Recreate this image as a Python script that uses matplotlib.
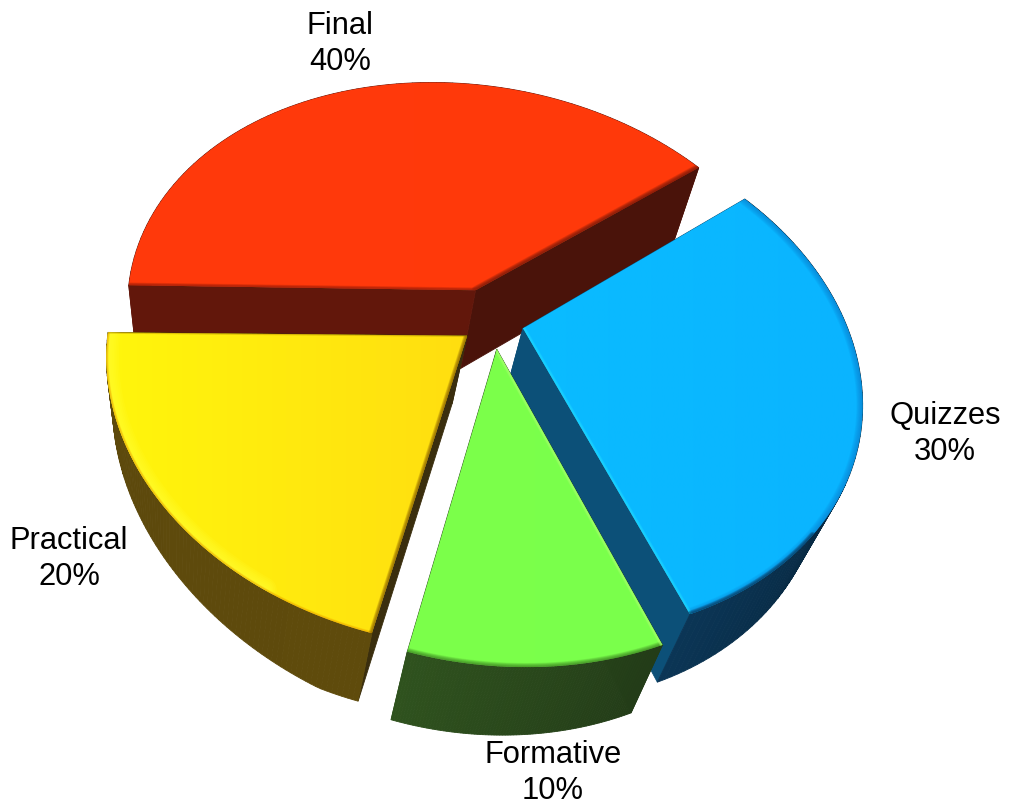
#!/usr/bin/env python3
import matplotlib
import matplotlib.pyplot as plt
from matplotlib.colors import to_rgb
from matplotlib.patches import PathPatch, Polygon
from matplotlib.path import Path
import numpy as np

matplotlib.use('Agg')

LABELS = ['Final', 'Practical', 'Formative', 'Quizzes']
VALUES = [40, 20, 10, 30]
EXPLODE = [0.13, 0.10, 0.11, 0.09]
DEPTH = [1.15, 1.0, 1.0, 1.0]

TOP_COLORS = [('#FF3A0C', '#FF390A'), ('#FFF60C', '#FFDE10'), ('#7CFF4A', '#7AFF4C'), ('#0ABCFF', '#0AB4FF')]
RIM_COLORS = [('#62170B', '#62170B'), ('#5C480C', '#5F4B0C'), ('#2F521E', '#233C18'), ('#0B3555', '#000F18')]
CUT_COLORS = [('#62170B', '#4A130A'), ('#3A2E0E', '#3A2E0E'), ('#233C18', '#2F521E'), ('#0C5078', '#0C5078')]

LABEL_POS = [(340, 44), (69, 559), (553, 773), (945, 434)]

START = 34.0
CX, CY = 493, 321
RX, RY = 338, 253
PERSP = 0.17
PERSP_X = 0.045
SHEAR = 0.18
SKEW = 0.015


def project(u, v):
    """Tilted disc coordinates to pixel coordinates."""
    w = 1 + PERSP * v + PERSP_X * u
    yy = -RY * v / w
    xx = RX * u / w + SHEAR * yy
    return CX + xx, CY + yy - SKEW * xx


def extrude(x, y, scale):
    """Bottom of the side wall for a point on the top face."""
    dx = -0.06 * (x - 200) - 0.015 * (y - 400)
    dy = 68 - 23 * np.clip((330 - x) / 230, 0, 1)
    return x + dx, y + dy * scale


def mix(a, b, t):
    a, b = np.array(to_rgb(a)), np.array(to_rgb(b))
    return tuple(a + (b - a) * t)


def draw_quad(ax, p0, p1, scale, color, zorder):
    x0, y0 = extrude(p0[0], p0[1], scale)
    x1, y1 = extrude(p1[0], p1[1], scale)
    ax.add_patch(Polygon([p0, p1, (x1, y1), (x0, y0)], closed=True, facecolor=color,
                         edgecolor=color, linewidth=0.6, zorder=zorder))


def draw_bevel(ax, pts, color, width, clip, zorder, alpha=0.16):
    # soft edge, stacked thin alpha strokes
    pts = np.array(pts)
    for lw in np.linspace(width, 1, 8):
        line, = ax.plot(pts[:, 0], pts[:, 1], color=color, lw=lw, alpha=alpha,
                        solid_capstyle='round', zorder=zorder)
        line.set_clip_path(clip)


fig = plt.figure(figsize=(10.09, 8.06), dpi=100)
ax = fig.add_axes([0, 0, 1, 1])
ax.set_xlim(0, 1009)
ax.set_ylim(806, 0)
ax.axis('off')

shares = np.array(VALUES) / sum(VALUES) * 360
starts = START + np.concatenate([[0], np.cumsum(shares)[:-1]])

# back to front
for order, i in enumerate([0, 3, 2, 1]):
    base = order * 10 + 1
    a0, a1 = np.radians(starts[i]), np.radians(starts[i] + shares[i])
    mid = (a0 + a1) / 2
    ou, ov = EXPLODE[i] * np.cos(mid), EXPLODE[i] * np.sin(mid)
    t = np.linspace(a0, a1, 90)
    ax_, ay_ = project(ou, ov)
    apex = (float(ax_), float(ay_))
    ex, ey = project(ou + np.cos(t), ov + np.sin(t))
    arc = list(zip(ex, ey))
    scale = DEPTH[i]

    # rear wall first, then the cuts and the rim by height on the page
    segs = []
    for k in range(len(arc) - 1):
        col = mix(RIM_COLORS[i][0], RIM_COLORS[i][1], k / (len(arc) - 2))
        segs.append((arc[k], arc[k + 1], col))
    segs.append((apex, arc[0], CUT_COLORS[i][1]))
    segs.append((arc[-1], apex, CUT_COLORS[i][0]))
    segs.sort(key=lambda s: (s[0][1] + s[1][1]) / 2)
    for p0, p1, col in segs:
        draw_quad(ax, p0, p1, scale, col, base)

    # top face, gradient clipped to the wedge
    verts = [apex] + arc + [apex]
    codes = [Path.MOVETO] + [Path.LINETO] * (len(verts) - 2) + [Path.CLOSEPOLY]
    face = PathPatch(Path(verts, codes), facecolor='none', edgecolor='none', zorder=base + 1)
    ax.add_patch(face)
    c0, c1 = np.array(to_rgb(TOP_COLORS[i][0])), np.array(to_rgb(TOP_COLORS[i][1]))
    ramp = np.linspace(0, 1, 256)[None, :, None]
    grad = c0[None, None, :] + (c1 - c0)[None, None, :] * ramp
    xs = [p[0] for p in verts]
    ys = [p[1] for p in verts]
    im = ax.imshow(grad, extent=(min(xs), max(xs), max(ys), min(ys)), aspect='auto',
                   interpolation='bilinear', zorder=base + 2)
    im.set_clip_path(face)

    if i == 0:
        draw_bevel(ax, [apex, arc[0]], '#701808', 6, face, base + 3)
        draw_bevel(ax, [arc[-1], apex], '#A02008', 4, face, base + 3)
    elif i == 1:
        draw_bevel(ax, arc[:70], '#FFFF30', 18, face, base + 3)
        draw_bevel(ax, arc, '#F0A000', 3, face, base + 3, alpha=0.1)
        draw_bevel(ax, [apex, arc[0]], '#C09000', 2, face, base + 3, alpha=0.08)
        draw_bevel(ax, [arc[-1], apex], '#8A6000', 5, face, base + 3)
    elif i == 2:
        draw_bevel(ax, arc, '#2C6018', 6, face, base + 3, alpha=0.1)
        draw_bevel(ax, [arc[-1], apex], '#A8FF70', 4, face, base + 3)
    else:
        draw_bevel(ax, arc, '#0878C8', 9, face, base + 3, alpha=0.1)
        draw_bevel(ax, [apex, arc[0]], '#20DCFF', 4, face, base + 3)
        draw_bevel(ax, arc[:22], '#083C60', 5, face, base + 3)

for i, (x, y) in enumerate(LABEL_POS):
    ax.text(x, y, f'{LABELS[i]}\n{VALUES[i]}%', ha='center', va='center', fontsize=22.2,
            family='Liberation Sans', linespacing=1.22, color='black', zorder=60)

fig.savefig('out.png', dpi=100, facecolor='white')
